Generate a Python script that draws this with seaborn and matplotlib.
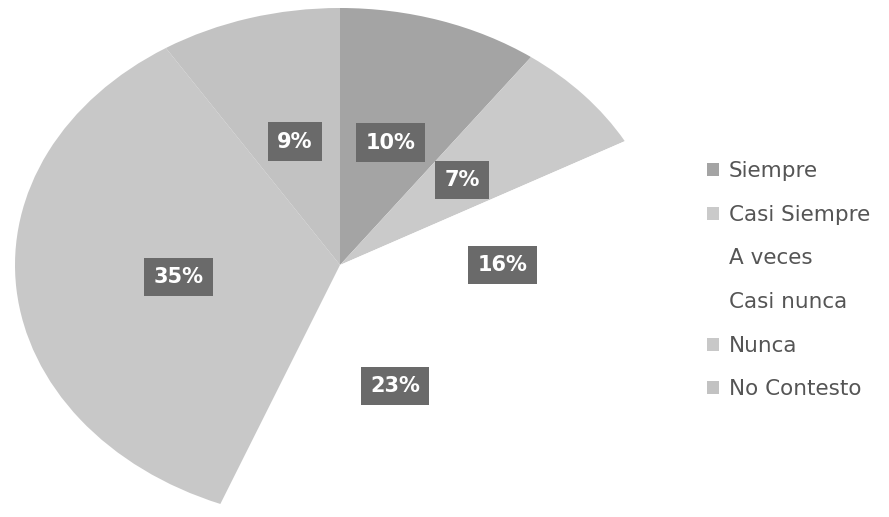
import matplotlib
matplotlib.use("Agg")
import matplotlib.pyplot as plt
import seaborn as sns
from matplotlib.patches import Patch

categories = ["Siempre", "Casi Siempre", "A veces", "Casi nunca", "Nunca", "No Contesto"]
values = [10, 7, 16, 23, 35, 9]
colors = ["#a4a4a4", "#cacaca", "#ffffff", "#ffffff", "#c8c8c8", "#c2c2c2"]

sns.set_theme(style="white")
plt.rcParams["font.family"] = ["DejaVu Sans"]

fig = plt.figure(figsize=(8.89, 5.17), dpi=100)
fig.patch.set_facecolor("white")

W, H = 889, 517
cx, cy, rx, ry = 340, 265, 325, 257
ax = fig.add_axes([(cx - rx) / W, (H - cy - ry) / H, 2 * rx / W, 2 * ry / H])

wedges, texts, autotexts = ax.pie(
    values,
    colors=colors,
    startangle=90,
    counterclock=False,
    autopct=lambda p: f"{p:.0f}%",
    pctdistance=0.5,
    wedgeprops=dict(edgecolor="none", linewidth=0),
    textprops=dict(color="white", fontsize=15, fontweight="bold"),
)
for t in autotexts:
    t.set_bbox(dict(boxstyle="square,pad=0.45", fc="#6a6a6a", ec="none"))

ax.set_aspect("auto")
ax.set_xlim(-1, 1)
ax.set_ylim(-1, 1)
ax.axis("off")

handles = [Patch(facecolor=c, edgecolor="none") for c in colors]
leg = fig.legend(
    handles, categories,
    loc="upper left",
    bbox_to_anchor=(707 / W, 1 - 161 / H),
    frameon=False,
    fontsize=15.5,
    labelspacing=1.1,
    handlelength=0.56,
    handleheight=0.56,
    handletextpad=0.45,
    borderaxespad=0,
    borderpad=0,
)
for t in leg.get_texts():
    t.set_color("#555555")

fig.savefig("out.png", dpi=100, facecolor="white")
